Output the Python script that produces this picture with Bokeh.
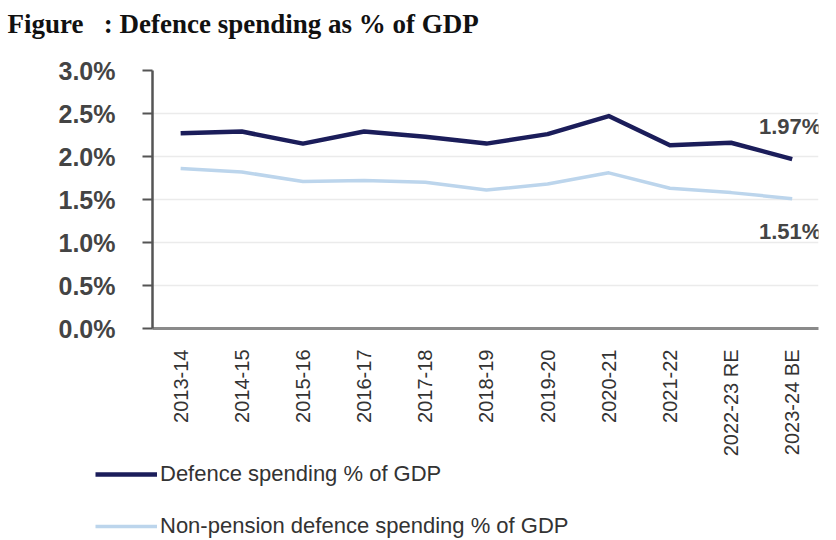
import math
from bokeh.plotting import figure
from bokeh.layouts import column
from bokeh.models import (ColumnDataSource, Range1d, FixedTicker, PrintfTickFormatter,
                          Legend, LegendItem, Label)
from bokeh.embed import file_html
from bokeh.resources import INLINE

categories = ["2013-14", "2014-15", "2015-16", "2016-17", "2017-18", "2018-19",
              "2019-20", "2020-21", "2021-22", "2022-23 RE", "2023-24 BE"]
defence = [2.27, 2.29, 2.15, 2.29, 2.23, 2.15, 2.26, 2.47, 2.13, 2.16, 1.97]
non_pension = [1.86, 1.82, 1.71, 1.72, 1.70, 1.61, 1.68, 1.81, 1.63, 1.58, 1.51]
y_ticks = [0.0, 0.5, 1.0, 1.5, 2.0, 2.5, 3.0]
series_names = ["Defence spending % of GDP", "Non-pension defence spending % of GDP"]
title_text = "Figure\u00a0\u00a0\u00a0: Defence spending as % of GDP"

x_idx = list(range(len(categories)))
src = ColumnDataSource(data=dict(x=x_idx, defence=defence, non_pension=non_pension))

dark = "#1b1d5a"
light = "#bcd5ec"


def strip(height):
    f = figure(width=828, height=height, output_backend="svg", toolbar_location=None,
               x_axis_location=None, y_axis_location=None,
               min_border_left=0, min_border_right=0, min_border_top=0, min_border_bottom=0)
    f.grid.visible = False
    f.outline_line_color = None
    f.border_fill_color = "white"
    f.background_fill_color = "white"
    try:
        f.frame_align = False
    except Exception:
        pass
    return f


# ---- title strip
pt = strip(56)
pt.add_layout(Label(x=7, y=33, x_units="screen", y_units="screen", text=title_text,
                    text_font="Liberation Serif", text_font_style="bold",
                    text_font_size="27px", text_color="#111111",
                    text_baseline="alphabetic", text_align="left"))

# ---- main chart
p = figure(width=828, height=403,
           x_range=Range1d(-0.46, len(categories) - 1 + 0.43),
           y_range=Range1d(y_ticks[0], y_ticks[-1]),
           output_backend="svg", toolbar_location=None,
           min_border_left=152, min_border_right=10,
           min_border_top=14, min_border_bottom=123)
try:
    p.frame_align = False
except Exception:
    pass
p.outline_line_color = None
p.background_fill_color = "white"
p.border_fill_color = "white"

r1 = p.line("x", "defence", source=src, line_color=dark, line_width=4.5, line_join="round")
r2 = p.line("x", "non_pension", source=src, line_color=light, line_width=3.5, line_join="round")

p.xgrid.visible = False
p.ygrid.ticker = FixedTicker(ticks=y_ticks)
p.ygrid.grid_line_color = "#ebebeb"
p.ygrid.grid_line_width = 1.5

p.yaxis.ticker = FixedTicker(ticks=y_ticks)
p.yaxis.formatter = PrintfTickFormatter(format="%.1f%%")
p.yaxis.axis_line_color = "#555555"
p.yaxis.axis_line_width = 2.5
p.yaxis.major_tick_line_color = "#555555"
p.yaxis.major_tick_line_width = 2
p.yaxis.major_tick_out = 10
p.yaxis.major_tick_in = 0
p.yaxis.minor_tick_line_color = None
p.yaxis.major_label_standoff = 27
p.yaxis.major_label_text_font = "Liberation Sans"
p.yaxis.major_label_text_font_style = "bold"
p.yaxis.major_label_text_font_size = "25px"
p.yaxis.major_label_text_color = "#444444"

p.xaxis.ticker = FixedTicker(ticks=x_idx)
p.xaxis.major_label_overrides = {i: c for i, c in zip(x_idx, categories)}
p.xaxis.axis_line_color = "#8a8a8a"
p.xaxis.axis_line_width = 3
p.xaxis.major_tick_line_color = None
p.xaxis.minor_tick_line_color = None
p.xaxis.major_label_orientation = math.pi / 2
p.xaxis.major_label_standoff = 15
p.xaxis.major_label_text_font = "Liberation Sans"
p.xaxis.major_label_text_font_size = "20px"
p.xaxis.major_label_text_color = "#333333"

last = len(categories) - 1
p.add_layout(Label(x=last, y=defence[-1], text=f"{defence[-1]:.2f}%",
                   x_offset=-2, y_offset=33, text_align="center", text_baseline="middle",
                   text_font="Liberation Sans", text_font_style="bold",
                   text_font_size="22px", text_color="#444444"))
p.add_layout(Label(x=last, y=non_pension[-1], text=f"{non_pension[-1]:.2f}%",
                   x_offset=-2, y_offset=-33, text_align="center", text_baseline="middle",
                   text_font="Liberation Sans", text_font_style="bold",
                   text_font_size="22px", text_color="#444444"))

# ---- legend strip (series lines kept out of its view; only the legend shows)
pl = strip(80)
pl.x_range = Range1d(-100, -99)
pl.y_range = Range1d(-100, -99)
l1 = pl.line("x", "defence", source=src, line_color=dark, line_width=4.5)
l2 = pl.line("x", "non_pension", source=src, line_color=light, line_width=3.5)
legend = Legend(items=[LegendItem(label=series_names[0], renderers=[l1]),
                       LegendItem(label=series_names[1], renderers=[l2])],
                location=(95, 0), orientation="vertical",
                glyph_width=62, glyph_height=26, label_height=26,
                label_standoff=3, spacing=26, padding=0, margin=0,
                label_text_font="Liberation Sans", label_text_font_size="22px",
                label_text_color="#333333",
                background_fill_alpha=0, border_line_color=None)
pl.add_layout(legend, "center")

layout = column(pt, p, pl, spacing=0)
open("out.html", "w").write(file_html(layout, INLINE))
